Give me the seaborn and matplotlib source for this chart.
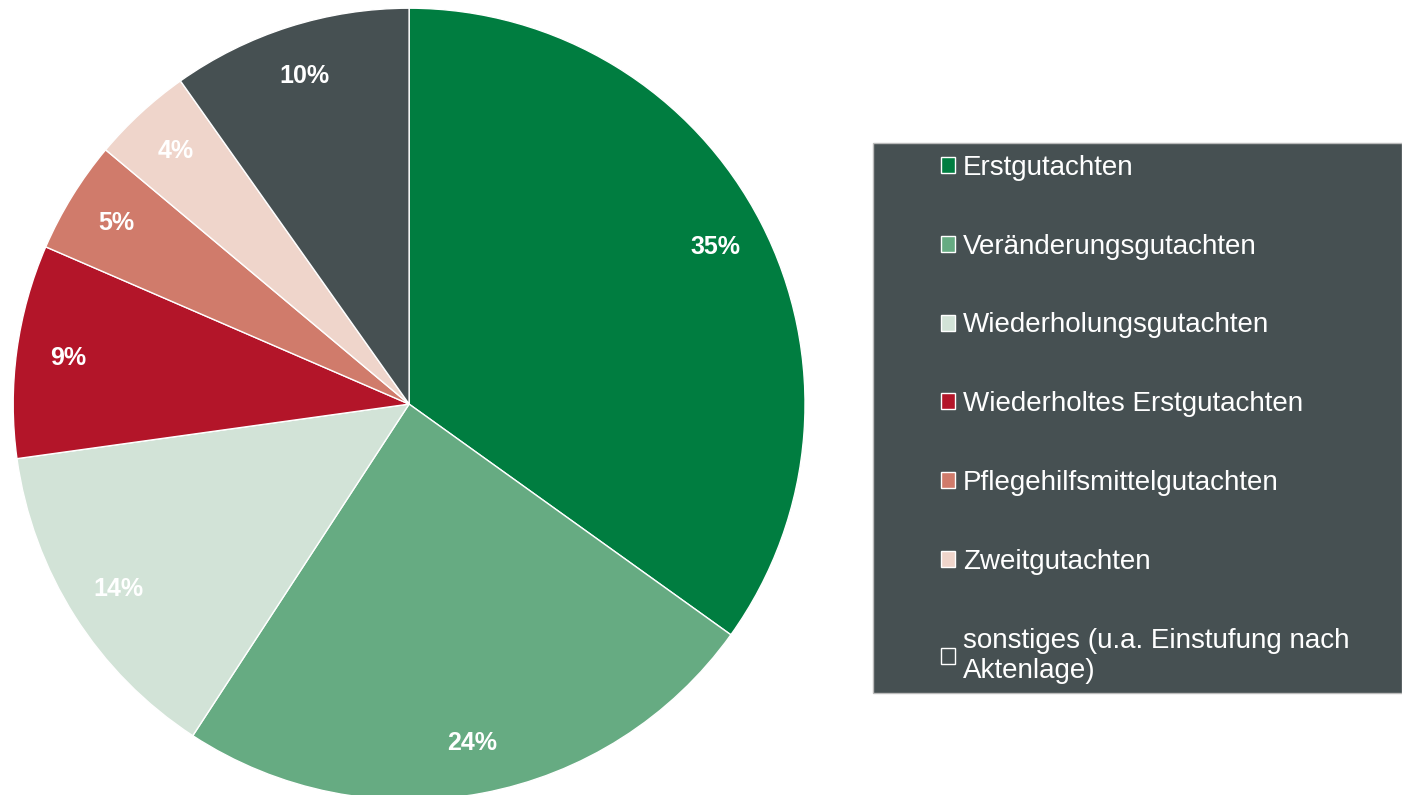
import numpy as np
import pandas as pd
import matplotlib.pyplot as plt
import seaborn as sns
from matplotlib.patches import Rectangle

categories = ["Erstgutachten", "Veränderungsgutachten", "Wiederholungsgutachten",
              "Wiederholtes Erstgutachten", "Pflegehilfsmittelgutachten",
              "Zweitgutachten", "sonstiges (u.a. Einstufung nach\nAktenlage)"]
shares = [34.9, 24.3, 13.6, 8.7, 4.6, 4.1, 9.8]
colors = ["#007D40", "#66AB82", "#D2E3D7", "#B31529", "#D07B6B", "#EFD5CB", "#465052"]

df = pd.DataFrame({"typ": categories, "anteil": shares})

sns.set_theme(style="white")
plt.rcParams['font.family'] = ['Liberation Sans', 'DejaVu Sans']

fig = plt.figure(figsize=(14.02, 7.95), dpi=100)
ax = fig.add_axes([0.0093, -0.0063, 0.565, 0.996])

wedges, texts, autotexts = ax.pie(
    df["anteil"], colors=colors, startangle=90, counterclock=False,
    autopct=lambda p: f"{p:.0f}%", pctdistance=0.87,
    wedgeprops=dict(edgecolor="white", linewidth=1),
    textprops=dict(color="white", fontsize=18, fontweight="bold"))
ax.set_xlim(-1, 1)
ax.set_ylim(-1, 1)
ax.set_aspect("equal")

# dark legend box on the right
fig.patches.append(Rectangle((873 / 1402, 1 - 693 / 795), (1402 - 873) / 1402, 550 / 795,
                             transform=fig.transFigure, facecolor="#465052",
                             edgecolor="#BBBBBB", linewidth=1, zorder=0))

handles = []
for c in colors:
    handles.append(Rectangle((0, 0), 1, 1, facecolor=c, edgecolor="white", linewidth=1))
leg = fig.legend(handles, df["typ"], loc="upper left",
                 bbox_to_anchor=(927 / 1402, 1 - 141 / 795), frameon=False,
                 fontsize=20, labelcolor="white", handlelength=0.5,
                 handleheight=0.5, handletextpad=0.3, labelspacing=1.9,
                 borderpad=0)

fig.savefig("out.png", dpi=100)
